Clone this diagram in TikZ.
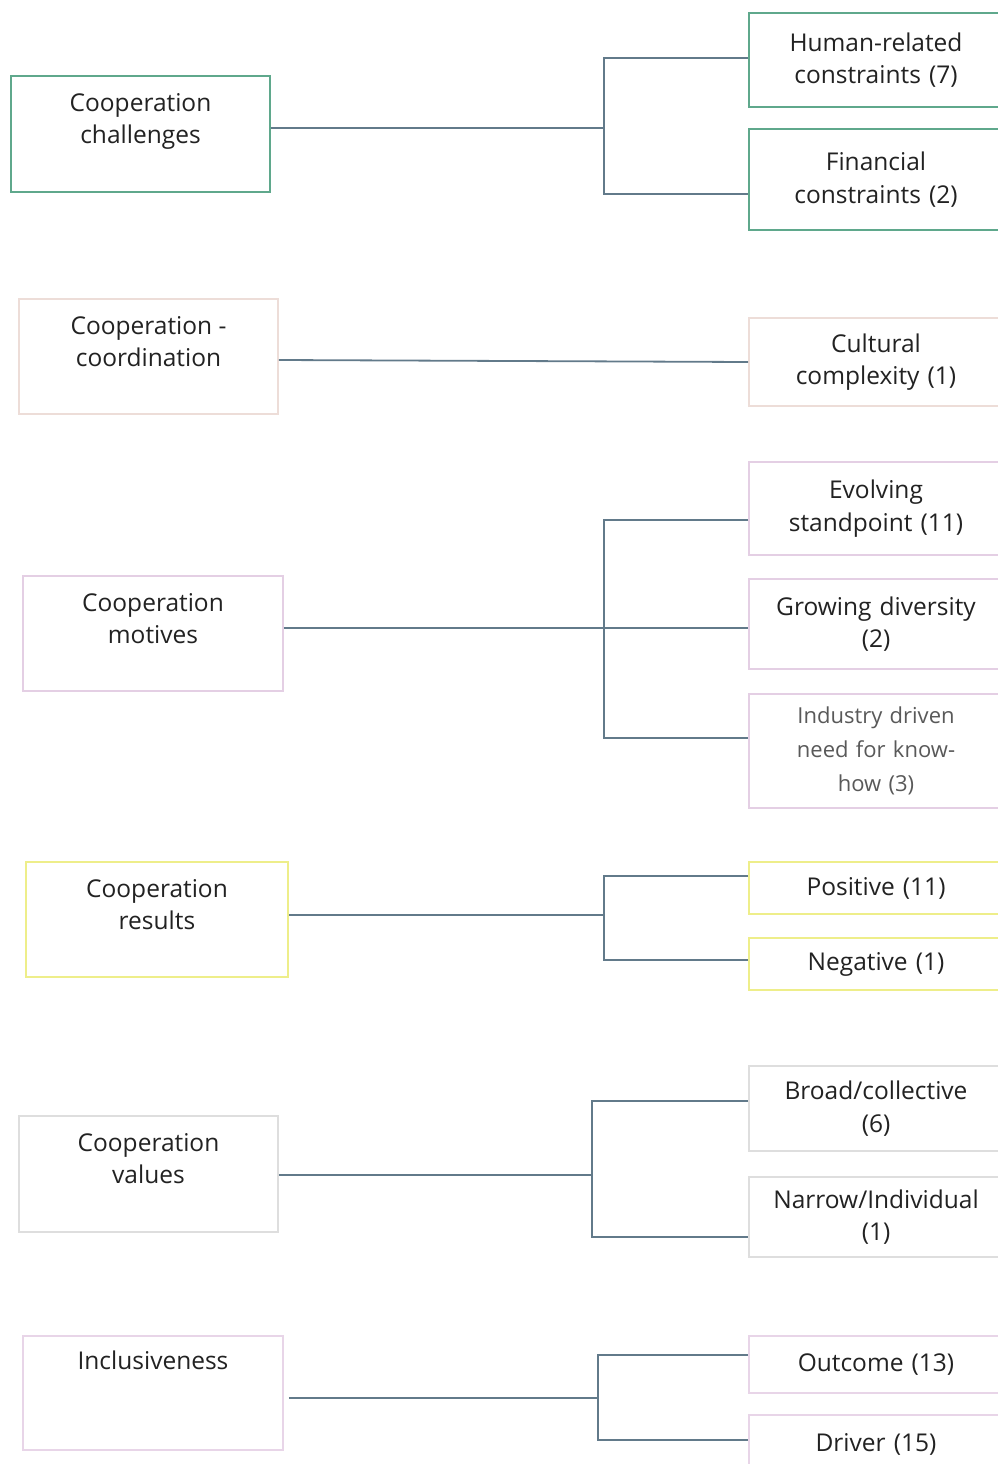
\documentclass[tikz,border=0pt]{standalone}
\usepackage{fontspec}
\setmainfont{Open Sans}
\definecolor{cgreen}{HTML}{5FA88C}
\definecolor{cbeige}{HTML}{EDDDD8}
\definecolor{clilac}{HTML}{E4CFE4}
\definecolor{cyellow}{HTML}{EEEE8A}
\definecolor{cgrey}{HTML}{DEDEDE}
\definecolor{cpink}{HTML}{E8D5E8}
\definecolor{wire}{HTML}{627A8A}
\definecolor{ink}{HTML}{222222}
\tikzset{
  box/.style={draw, rectangle, line width=2pt, inner sep=0pt, fill=white,
    text=ink, align=center, font=\fontsize{24.5}{32.5}\selectfont},
  lbox/.style={box, minimum width=#1},
  rbox/.style={box, minimum width=254pt, text width=244pt},
  toptext/.style={anchor=north, text=ink, align=center, inner sep=0pt,
    font=\fontsize{24.5}{32}\selectfont},
  wirestyle/.style={draw=wire, line width=1.8pt}
}
\begin{document}
\begin{tikzpicture}[x=1pt, y=-1pt]
\useasboundingbox (0,0) rectangle (998,1464);
\clip (0,0) rectangle (998,1464);

% ---------- challenges ----------
\node[lbox=259pt, draw=cgreen, minimum height=116pt] (chal) at (140.5,134) {};
\node[toptext] (chalT) at ([yshift=-18pt]chal.north) {Cooperation\\challenges};
\node[rbox, draw=cgreen, minimum height=94pt] (hum) at (876,60) {Human-related\\constraints (7)};
\node[rbox, draw=cgreen, minimum height=101pt] (fin) at (876,179.5) {Financial\\constraints (2)};
\coordinate (m1) at (604,128);
\coordinate (a1) at (604,58);
\coordinate (b1) at (604,194);
\draw[wirestyle] (chal.east |- m1) -- (m1);
\draw[wirestyle] (hum.west |- a1) -- (a1) -- (b1) -- (fin.west |- b1);

% ---------- coordination ----------
\node[lbox=259pt, draw=cbeige, minimum height=115pt, line width=1.6pt] (coord) at (148.5,356.5) {};
\node[toptext] (coordT) at ([yshift=-18pt]coord.north) {Cooperation -\\coordination};
\node[rbox, draw=cbeige, minimum height=88pt, line width=1.6pt] (cult) at (876,362) {Cultural\\complexity (1)};
\coordinate (m2) at (278,360);
\draw[wirestyle] (coord.east |- m2) -- (cult.west);

% ---------- motives ----------
\node[lbox=260pt, draw=clilac, minimum height=115pt, line width=1.6pt] (mot) at (153,633.5) {};
\node[toptext] (motT) at ([yshift=-18pt]mot.north) {Cooperation\\motives};
\node[rbox, draw=clilac, minimum height=93pt, line width=1.6pt] (evo) at (876,508.5) {Evolving\\standpoint (11)};
\node[rbox, draw=clilac, minimum height=90pt, line width=1.6pt] (grow) at (876,624) {Growing diversity\\(2)};
\node[rbox, draw=clilac, minimum height=114pt, line width=1.6pt, text=ink!75,
      font=\fontsize{22}{34}\selectfont] (ind) at (876,751) {Industry driven\\need for know-\\how (3)};
\coordinate (m3) at (604,628);
\coordinate (a3) at (604,520);
\coordinate (b3) at (604,738);
\draw[wirestyle] (mot.east |- m3) -- (m3);
\draw[wirestyle] (evo.west |- a3) -- (a3) -- (b3) -- (ind.west |- b3);
\draw[wirestyle] (m3) -- (grow.west |- m3);

% ---------- results ----------
\node[lbox=262pt, draw=cyellow, minimum height=115pt] (res) at (157,919.5) {};
\node[toptext] (resT) at ([yshift=-18pt]res.north) {Cooperation\\results};
\node[rbox, draw=cyellow, minimum height=52pt] (pos) at (876,888) {Positive (11)};
\node[rbox, draw=cyellow, minimum height=52pt] (neg) at (876,964) {Negative (1)};
\coordinate (m4) at (604,915);
\coordinate (a4) at (604,876);
\coordinate (b4) at (604,960);
\draw[wirestyle] (res.east |- m4) -- (m4);
\draw[wirestyle] (pos.west |- a4) -- (a4) -- (b4) -- (neg.west |- b4);

% ---------- values ----------
\node[lbox=259pt, draw=cgrey, minimum height=116pt, line width=1.6pt] (val) at (148.5,1174) {};
\node[toptext] (valT) at ([yshift=-18pt]val.north) {Cooperation\\values};
\node[rbox, draw=cgrey, minimum height=85pt, line width=1.6pt] (broad) at (876,1108.5) {Broad/collective\\(6)};
\node[rbox, draw=cgrey, minimum height=80pt, line width=1.6pt] (narrow) at (876,1217) {Narrow/Individual\\(1)};
\coordinate (m5) at (592,1175);
\coordinate (a5) at (592,1101);
\coordinate (b5) at (592,1237);
\draw[wirestyle] (val.east |- m5) -- (m5);
\draw[wirestyle] (broad.west |- a5) -- (a5) -- (b5) -- (narrow.west |- b5);

% ---------- inclusiveness ----------
\node[lbox=260pt, draw=cpink, minimum height=114pt, line width=1.6pt] (incl) at (153,1393) {};
\node[toptext] (inclT) at ([yshift=-15pt]incl.north) {Inclusiveness};
\node[rbox, draw=cpink, minimum height=57pt, line width=1.6pt] (outc) at (876,1364.5) {Outcome (13)};
\node[rbox, draw=cpink, minimum height=58pt, line width=1.6pt] (drv) at (876,1444) {Driver (15)};
\coordinate (m6) at (598,1398);
\coordinate (a6) at (598,1355);
\coordinate (b6) at (598,1440);
\draw[wirestyle] ([xshift=5pt]incl.east |- m6) -- (m6);
\draw[wirestyle] (outc.west |- a6) -- (a6) -- (b6) -- (drv.west |- b6);
\end{tikzpicture}
\end{document}
